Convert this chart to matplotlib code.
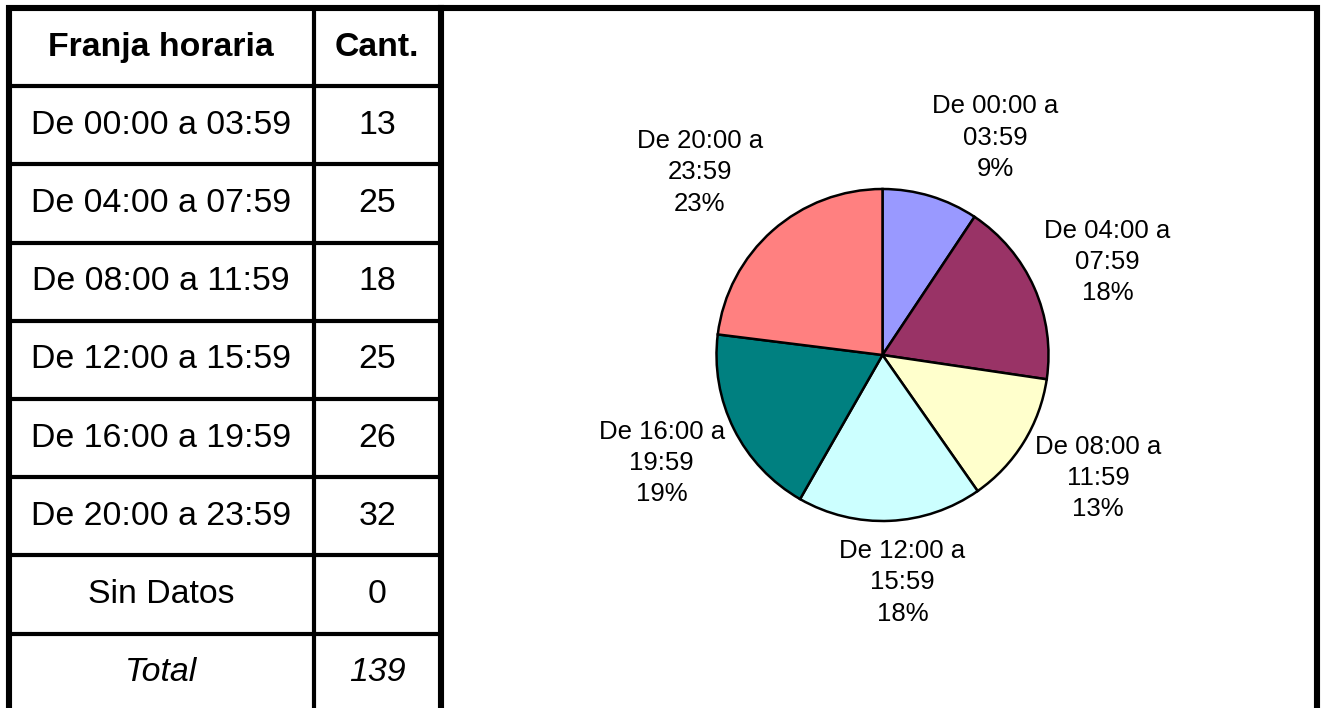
# -*- coding: utf-8 -*-
"""
Tabla de franjas horarias con grafico de torta
"""
import matplotlib
matplotlib.use("Agg")
import matplotlib.pyplot as plt

plt.rcParams['font.family'] = ['Liberation Sans', 'DejaVu Sans']

# datos
franjas = ["De 00:00 a 03:59", "De 04:00 a 07:59", "De 08:00 a 11:59",
           "De 12:00 a 15:59", "De 16:00 a 19:59", "De 20:00 a 23:59"]
cantidades = [13, 25, 18, 25, 26, 32]
sin_datos = 0
total = sum(cantidades) + sin_datos
colores = ["#9999FF", "#993366", "#FFFFCC", "#CCFFFF", "#008080", "#FF8080"]

# posicion de cada etiqueta del grafico (en radios desde el centro)
pos_etiquetas = [(0.68, 1.31), (1.355, 0.56), (1.30, -0.74),
                 (0.12, -1.37), (-1.33, -0.65), (-1.10, 1.10)]

fig = plt.figure(figsize=(13.22, 7.08), dpi=100)

# fondo: marco y tabla en coordenadas de pixel
bg = fig.add_axes([0, 0, 1, 1])
bg.set_xlim(0, 1322)
bg.set_ylim(708, 0)
bg.axis("off")

# marco exterior
bg.plot([8.5, 8.5, 1316.5, 1316.5], [720, 8, 8, 720], color="black", lw=4.4,
        solid_joinstyle="miter")

# tabla
filas = [("Franja horaria", "Cant.", "bold", "normal")]
for f, c in zip(franjas, cantidades):
    filas.append((f, str(c), "normal", "normal"))
filas.append(("Sin Datos", str(sin_datos), "normal", "normal"))
filas.append(("Total", str(total), "normal", "italic"))

top = 8.0
row_h = 78.2
x_left, x_mid, x_right = 8.5, 313.5, 440.7

for i, (txt1, txt2, peso, estilo) in enumerate(filas):
    y_c = top + row_h * (i + 0.5)
    bg.text((x_left + x_mid) / 2, y_c, txt1, ha="center", va="center",
            fontsize=24.4, fontweight=peso, style=estilo)
    bg.text((x_mid + x_right) / 2, y_c, txt2, ha="center", va="center",
            fontsize=24.4, fontweight=peso, style=estilo)
    if i > 0:
        bg.plot([x_left, x_right], [top + row_h * i] * 2, color="black", lw=3)

bg.plot([x_mid, x_mid], [top, 720], color="black", lw=3)
bg.plot([x_right, x_right], [top, 720], color="black", lw=4.4)

# grafico de torta
r_px = 166
cx, cy = 882.5, 355
ax = fig.add_axes([(cx - 2 * r_px) / 1322, (708 - cy - 2 * r_px) / 708,
                   4 * r_px / 1322, 4 * r_px / 708])
ax.pie(cantidades, colors=colores, startangle=90, counterclock=False,
       wedgeprops=dict(edgecolor="black", linewidth=1.8))
ax.set_xlim(-2, 2)
ax.set_ylim(-2, 2)
ax.axis("off")

for f, c, (px, py) in zip(franjas, cantidades, pos_etiquetas):
    ini, fin = f.split(" a ")
    pct = round(100 * c / total)
    etiqueta = ini + " a\n" + fin + "\n" + str(pct) + "%"
    ax.text(px, py, etiqueta, ha="center", va="center", fontsize=18.5,
            multialignment="center", linespacing=1.38)

plt.savefig("out.png", dpi=100)
